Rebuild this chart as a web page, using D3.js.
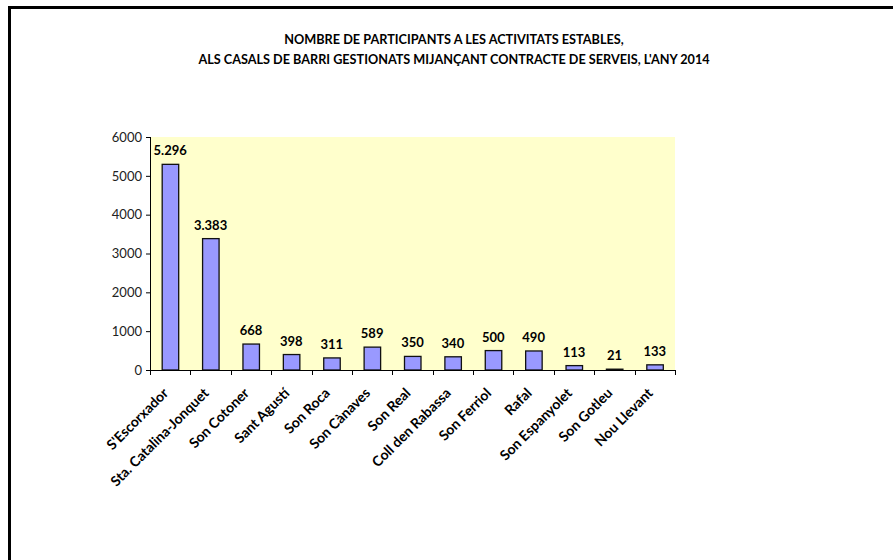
<!DOCTYPE html>
<html><head><meta charset="utf-8">
<script src="https://cdn.jsdelivr.net/npm/d3@7"></script>
<style>
html,body{margin:0;padding:0;background:#fff;}
svg{display:block;}
</style></head>
<body>
<svg id="chart" width="893" height="560"></svg>
<script>
const categories = ["S'Escorxador","Sta. Catalina-Jonquet","Son Cotoner","Sant Agustí","Son Roca","Son Cànaves","Son Real","Coll den Rabassa","Son Ferriol","Rafal","Son Espanyolet","Son Gotleu","Nou Llevant"];
const values = [5296,3383,668,398,311,589,350,340,500,490,113,21,133];
const yTicks = [0,1000,2000,3000,4000,5000,6000];
const titleLines = ["NOMBRE DE PARTICIPANTS A LES ACTIVITATS ESTABLES,","ALS CASALS DE BARRI GESTIONATS MIJANÇANT CONTRACTE DE SERVEIS, L'ANY 2014"];

const svg = d3.select("#chart");
const font = "Lato, 'Open Sans', sans-serif";

// frame
svg.append("line").attr("x1",8).attr("x2",893).attr("y1",7.5).attr("y2",7.5).attr("stroke","#000").attr("stroke-width",3);
svg.append("line").attr("x1",9.5).attr("x2",9.5).attr("y1",6).attr("y2",560).attr("stroke","#000").attr("stroke-width",3);

// title
const tw = [340, 512];
titleLines.forEach((t,i)=>{
  const el = svg.append("text").attr("x",454).attr("y",[44,64][i]).attr("text-anchor","middle")
    .attr("font-family",font).attr("font-weight","bold").attr("font-size",11).attr("fill","#000").text(t);
  const w = el.node().getComputedTextLength();
  el.attr("font-size", 11*tw[i]/w);
});

const plot = {x0:150, x1:675, y0:137, y1:370};
const xb = d3.scaleBand().domain(categories).range([plot.x0, plot.x1]);
const y = d3.scaleLinear().domain([0,6000]).range([plot.y1, plot.y0]);

svg.append("rect").attr("x",plot.x0).attr("y",plot.y0).attr("width",plot.x1-plot.x0).attr("height",plot.y1-plot.y0).attr("fill","#ffffcc");

svg.selectAll("rect.bar").data(values).join("rect").attr("class","bar")
  .attr("x",(d,i)=>xb(categories[i])+xb.bandwidth()/2-8)
  .attr("width",16.5)
  .attr("y",d=>y(d)).attr("height",d=>Math.max(0,y(0)-y(d)))
  .attr("fill","#9999ff").attr("stroke","#111").attr("stroke-width",1.3);

const fmt = d3.formatLocale({decimal:",",thousands:".",grouping:[3],currency:["","€"]}).format(",d");
svg.selectAll("text.lbl").data(values).join("text").attr("class","lbl")
  .attr("x",(d,i)=>xb(categories[i])+xb.bandwidth()/2)
  .attr("y",d=>y(d)-9).attr("text-anchor","middle")
  .attr("font-family",font).attr("font-weight","bold").attr("font-size",13).attr("fill","#000")
  .text(d=>fmt(d));

// y axis
const ya = svg.append("g").attr("transform",`translate(${plot.x0},0)`)
  .call(d3.axisLeft(y).tickValues(yTicks).tickFormat(d3.format("d")).tickSize(4).tickPadding(4));
ya.select(".domain").attr("stroke","#000").attr("d",`M0.5,${plot.y0}V${plot.y1}`);
ya.selectAll("line").attr("stroke","#000");
ya.selectAll("text").attr("font-family",font).attr("font-size",13).attr("fill","#222");

// x axis
const xa = svg.append("g").attr("transform",`translate(0,${plot.y1})`);
xa.append("line").attr("x1",plot.x0).attr("x2",plot.x1+0.5).attr("y1",0.5).attr("y2",0.5).attr("stroke","#000");
const bounds = categories.map(c=>xb(c)).concat([plot.x1]);
xa.selectAll("line.tk").data(bounds).join("line").attr("class","tk")
  .attr("x1",d=>Math.round(d)+0.5).attr("x2",d=>Math.round(d)+0.5).attr("y1",0).attr("y2",5).attr("stroke","#000");
xa.selectAll("text").data(categories).join("text")
  .attr("transform",c=>`translate(${xb(c)+xb.bandwidth()/2-1},${24}) rotate(-45)`)
  .attr("text-anchor","end").attr("font-family",font).attr("font-weight","bold").attr("font-size",14).attr("fill","#000")
  .text(c=>c);
</script>
</body></html>
